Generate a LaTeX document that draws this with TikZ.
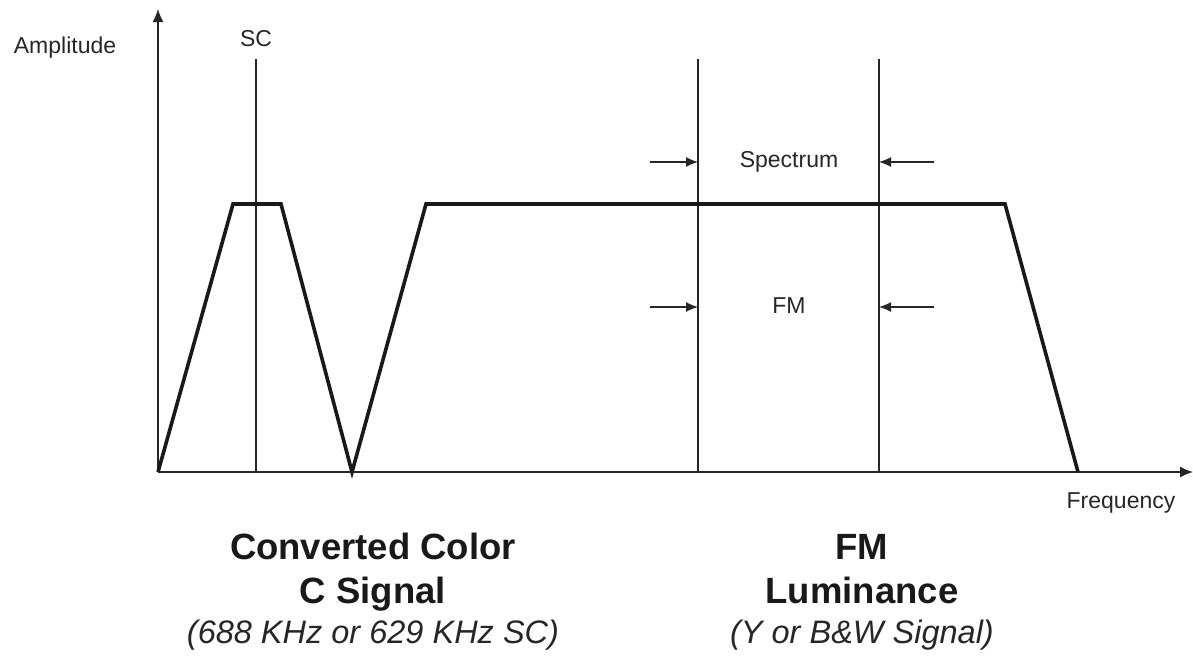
\documentclass[tikz,border=0pt]{standalone}
\usepackage{fontspec}
\setmainfont{Liberation Sans}
\usetikzlibrary{arrows.meta}
\begin{document}
\begin{tikzpicture}[x=1pt,y=-1pt,
  thinline/.style={line width=1.3pt,black!85},
  band/.style={line width=3.6pt,line join=miter,black!90},
  axis/.style={line width=1.4pt,black!85,-{Latex[length=13pt,width=11pt]}},
  marker/.style={line width=1.2pt,black!85,-{Latex[length=12pt,width=10pt]}},
  lbl/.style={font=\fontsize{23}{26}\selectfont,inner sep=0pt,anchor=base,text=black!85},
  title/.style={font=\fontsize{36.5}{40}\selectfont\bfseries,inner sep=0pt,anchor=base,text=black!90},
  sub/.style={font=\fontsize{32.5}{36}\selectfont\itshape,inner sep=0pt,anchor=base,text=black!85}]
\useasboundingbox (0,0) rectangle (1193,659);
% axes
\coordinate (o) at (158,472);
\coordinate (ytip) at (158,9);
\coordinate (xtip) at (1193,472);
\draw[axis] (o) -- (ytip);
\draw[axis] (o) -- (xtip);
% vertical reference lines
\coordinate (sctop) at (256,59);
\coordinate (scbot) at (256,472);
\coordinate (f1top) at (698,59);
\coordinate (f1bot) at (698,472);
\coordinate (f2top) at (879,59);
\coordinate (f2bot) at (879,472);
\draw[thinline] (sctop) -- (scbot);
\draw[thinline] (f1top) -- (f1bot);
\draw[thinline] (f2top) -- (f2bot);
% spectra
\coordinate (a1) at (158,472);
\coordinate (a2) at (233,204);
\coordinate (a3) at (281,204);
\coordinate (a4) at (352,472);
\coordinate (b2) at (426,204);
\coordinate (b3) at (1005,204);
\coordinate (b4) at (1078,472);
\draw[band] (a1) -- (a2) -- (a3) -- (a4) -- (b2) -- (b3) -- (b4);
% markers
\coordinate (s1) at (650,162);
\coordinate (s1t) at (698,162);
\coordinate (s2) at (934,162);
\coordinate (s2t) at (879,162);
\coordinate (m1) at (650,307);
\coordinate (m1t) at (698,307);
\coordinate (m2) at (934,307);
\coordinate (m2t) at (879,307);
\draw[marker] (s1) -- (s1t);
\draw[marker] (s2) -- (s2t);
\draw[marker] (m1) -- (m1t);
\draw[marker] (m2) -- (m2t);
% labels
\node[lbl] (amp) at (65,53) {Amplitude};
\node[lbl] (sc) at (256,46) {SC};
\node[lbl] (spec) at (789,167) {Spectrum};
\node[lbl] (fm) at (789,313) {FM};
\node[lbl] (freq) at (1121,508) {Frequency};
\node[title] (cc1) at (373,559) {Converted Color};
\node[title] (cc2) at (373,603) {C Signal};
\node[sub] (cc3) at (373,643) {(688 KHz or 629 KHz SC)};
\node[title] (fm1) at (862,559) {FM};
\node[title] (fm2) at (862,603) {Luminance};
\node[sub] (fm3) at (862,643) {(Y or B\&W Signal)};
\end{tikzpicture}
\end{document}
